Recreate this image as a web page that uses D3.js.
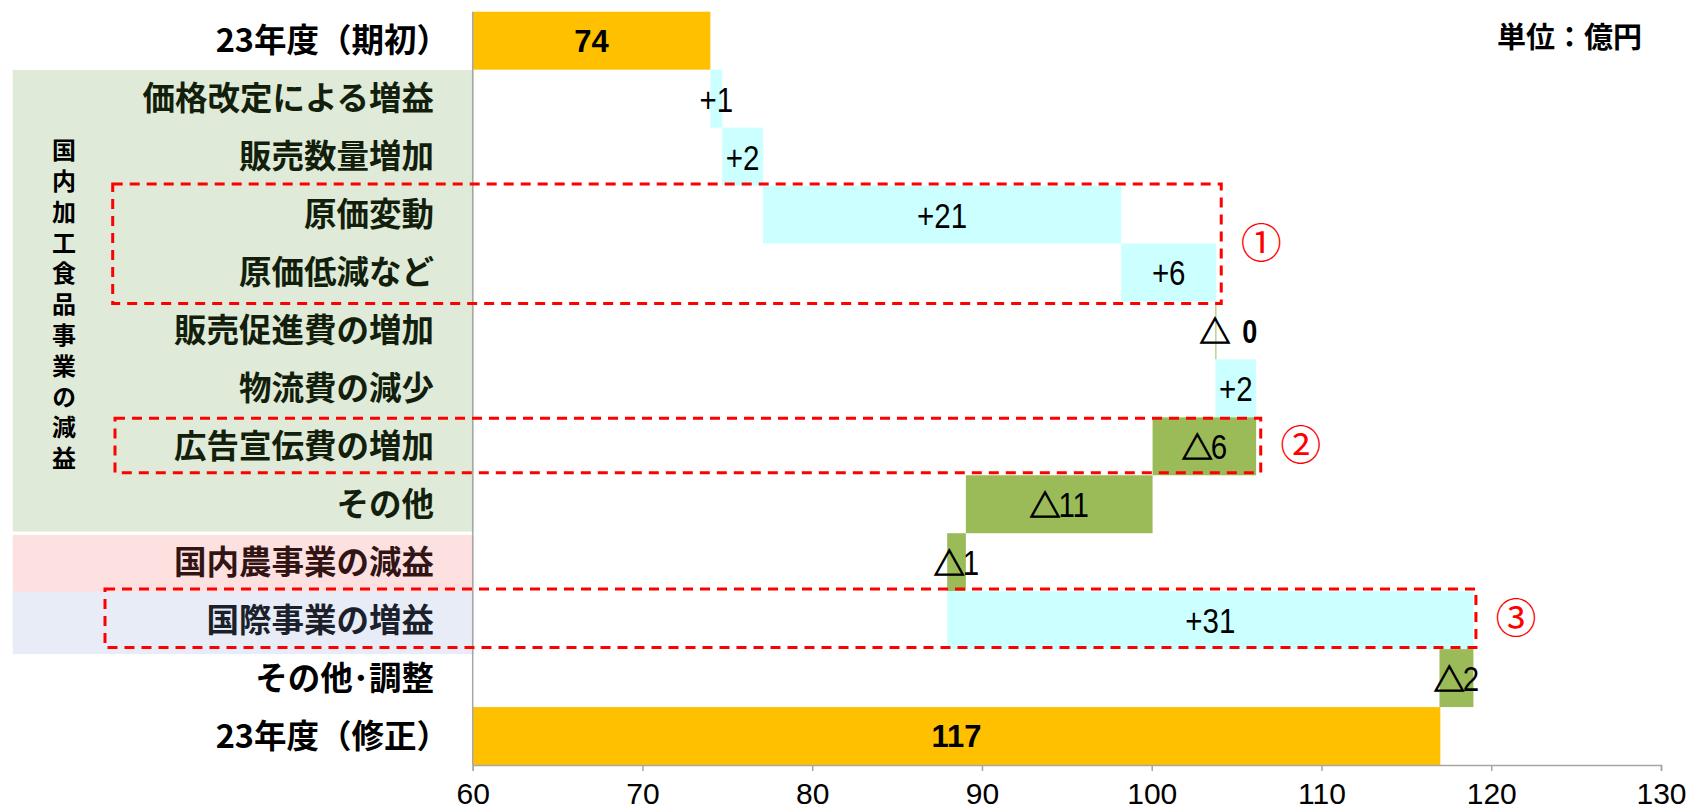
<!DOCTYPE html>
<html><head><meta charset="utf-8">
<script src="https://cdn.jsdelivr.net/npm/d3@7"></script>
<style>
html,body{margin:0;padding:0;background:#fff;}
svg{display:block;}
</style></head>
<body>
<script>
// ---------- data ----------
const categories = ["23年度（期初）","価格改定による増益","販売数量増加","原価変動","原価低減など","販売促進費の増加","物流費の減少","広告宣伝費の増加","その他","国内農事業の減益","国際事業の増益","その他･調整","23年度（修正）"];
const startTotal = 74;
const endTotal = 117;
const deltas = [0.7, 2.4, 21.1, 5.6, -0.05, 2.4, -6.1, -11.0, -1.1, 31.0, -2.0];
const valueLabels = ["74","+1","+2","+21","+6","△0","+2","△6","△11","△1","+31","△2","117"];
const xTicks = [60,70,80,90,100,110,120,130];
const groupLabel = "国内加工食品事業の減益";
const unitLabel = "単位：億円";
const highlightMarks = ["①","②","③"];
const highlightRows = [[3,4],[7,7],[10,10]];
const panelRows = [[1,8],[9,9],[10,10]];
const panelColors = ["#5f9a3a","#f56969","#8ca0d2"];

// ---------- layout ----------
const W = 1689, H = 811;
const svg = d3.select("body").append("svg").attr("width", W).attr("height", H);
const x = d3.scaleLinear().domain([60,130]).range([472.7,1661]);
const y = d3.scaleBand().domain(categories).range([11.7,765]).padding(0);
const bw = y.bandwidth();

const cjk = "'Noto Sans CJK JP','Noto Sans CJK SC',sans-serif";
const lat = "'Liberation Sans','Noto Sans CJK JP',sans-serif";

// compute bars
const bars = [];
bars.push({cat:categories[0], x0:60, x1:startTotal, type:"total", label:valueLabels[0]});
let run = startTotal;
deltas.forEach((d,i)=>{
  const a = run, b = run + d;
  bars.push({cat:categories[i+1], x0:Math.min(a,b), x1:Math.max(a,b), type: d>=0?"up":"down", label:valueLabels[i+1], end:b, d:d});
  run = b;
});
bars.push({cat:categories[12], x0:60, x1:endTotal, type:"total", label:valueLabels[12]});
const colors = {total:"#FFC000", up:"#CCFFFF", down:"#9BBB59"};

// category labels (drawn first, panels overlay with transparency)
svg.append("g").selectAll("text").data(categories).join("text")
  .attr("x", d => d.endsWith("）") ? 434 + 15 : 434)
  .attr("y", d => y(d) + bw/2)
  .attr("dy","0.36em")
  .attr("text-anchor","end")
  .attr("font-family", cjk).attr("font-weight","bold").attr("font-size", 32.5)
  .attr("fill","#000")
  .text(d=>d);

// translucent panels
const panelExtra = [[70-y(categories[1]), -1.6], [1.7, 0.5], [0.5, 5]];
panelRows.forEach((r,i)=>{
  const top = y(categories[r[0]]) + panelExtra[i][0];
  const bot = y(categories[r[1]]) + bw + panelExtra[i][1];
  svg.append("rect").attr("x",12.7).attr("y",top).attr("width",474-12.7).attr("height",bot-top)
    .attr("fill",panelColors[i]).attr("fill-opacity",0.2);
});

// vertical group label (single vertical text)
svg.append("text")
  .attr("x",64).attr("y",138)
  .attr("font-family",cjk).attr("font-weight","bold").attr("font-size",24)
  .style("writing-mode","vertical-rl")
  .style("letter-spacing","6.8px")
  .attr("fill","#000").text(groupLabel);

// bars
svg.append("g").selectAll("rect").data(bars).join("rect")
  .attr("x", d=>x(d.x0))
  .attr("y", d=>y(d.cat))
  .attr("width", d=>Math.max(1, x(d.x1)-x(d.x0)))
  .attr("height", bw)
  .attr("fill", d=>colors[d.type]);

// axes
svg.append("line").attr("x1",x(60)).attr("x2",x(60)).attr("y1",11.7).attr("y2",765)
  .attr("stroke","#a6a6a6").attr("stroke-width",1.5);
const xAxis = d3.axisBottom(x).tickValues(xTicks).tickSize(6).tickPadding(12).tickFormat(d3.format("d"));
const gx = svg.append("g").attr("transform","translate(0,765)").call(xAxis);
gx.select(".domain").attr("stroke","#a6a6a6").attr("stroke-width",1.5);
gx.selectAll(".tick line").attr("stroke","#a6a6a6").attr("stroke-width",1.5);
gx.selectAll(".tick text").attr("font-family",lat).attr("font-size",30).attr("fill","#000")
  .attr("dy","0.7em");

// bar labels
const SX = 0.82;
function drawLabel(cx, cy, label, anchorStart, boldNum) {
  const g = svg.append("g").attr("transform",`translate(${cx},${cy})`);
  const isTri = label.startsWith("△");
  const num = isTri ? label.slice(1) : label;
  let w1 = 0, triT = null;
  if (isTri) {
    triT = g.append("text").attr("y",13).attr("font-family",cjk).attr("font-size",31)
      .attr("fill","#000").attr("stroke","#000").attr("stroke-width",1.1).text("△");
    w1 = triT.node().getComputedTextLength();
  }
  const numT = g.append("text").attr("y",13).attr("font-family",lat)
    .attr("font-size", boldNum ? 33 : 36).attr("font-weight", boldNum ? "bold" : null)
    .attr("fill","#000").text(num);
  const w2 = numT.node().getComputedTextLength()*SX;
  const gap = isTri ? (boldNum ? 12 : -2) : 0;
  const total = w1 + gap + w2;
  const start = anchorStart ? 0 : -total/2;
  if (triT) triT.attr("x", start);
  numT.attr("transform",`scale(${SX},1)`).attr("x",(start + w1 + gap)/SX);
}
bars.forEach((b,i)=>{
  const cy = y(b.cat) + bw/2;
  if (b.type==="total") {
    svg.append("text").attr("x",(x(b.x0)+x(b.x1))/2).attr("y",cy).attr("dy","0.36em")
      .attr("text-anchor","middle").attr("font-family",lat).attr("font-weight","bold")
      .attr("font-size",31).attr("fill","#000").text(b.label);
  } else if (Math.abs(b.d) < 0.5) {
    drawLabel(x(b.end)-16, cy, b.label, true, true);
  } else {
    drawLabel((x(b.x0)+x(b.x1))/2, cy, b.label, false, false);
  }
});

// highlight dashed boxes + circled numbers
const boxLeft = [112.7, 115, 105];
const boxAdj = [[-1.5, 2, 5], [1, -2.6, 4.6], [-2.2, -1.5, 2.5]];
highlightRows.forEach((r,i)=>{
  const rows = bars.slice(r[0], r[1]+1);
  const maxX = d3.max(rows, d=>x(d.x1));
  const top = y(categories[r[0]]) + boxAdj[i][0];
  const bot = y(categories[r[1]]) + bw + boxAdj[i][1];
  const right = maxX + boxAdj[i][2];
  svg.append("rect").attr("x",boxLeft[i]).attr("y",top).attr("width",right-boxLeft[i]).attr("height",bot-top)
    .attr("fill","none").attr("stroke","#FF0000").attr("stroke-width",3).attr("stroke-dasharray","10,7");
  svg.append("text").attr("x",right+40).attr("y",(top+bot)/2).attr("dy","0.36em")
    .attr("text-anchor","middle").attr("font-family",cjk).attr("font-size",41)
    .attr("fill","#FF0000").text(highlightMarks[i]);
});

// unit label
svg.append("text").attr("x",1642).attr("y",37.5).attr("dy","0.36em").attr("text-anchor","end")
  .attr("font-family",cjk).attr("font-weight","bold").attr("font-size",29).attr("fill","#000")
  .text(unitLabel);
</script>
</body></html>
